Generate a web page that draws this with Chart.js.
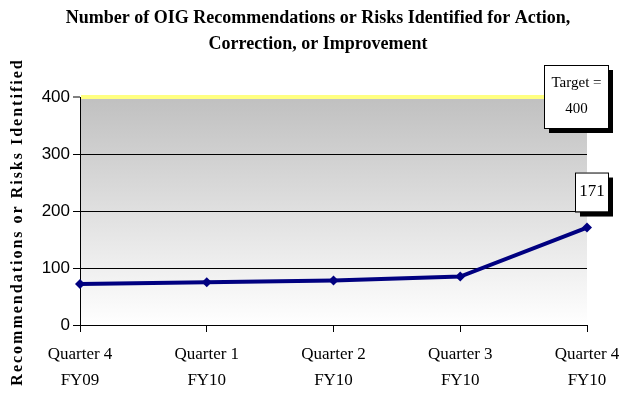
<!DOCTYPE html>
<html>
<head>
<meta charset="utf-8">
<script src="https://cdn.jsdelivr.net/npm/chart.js@4/dist/chart.umd.min.js"></script>
<style>
  html, body { margin: 0; padding: 0; background: #fff; }
  #wrap { width: 621px; height: 395px; }
</style>
</head>
<body>
<div id="wrap"><canvas id="oigChart" width="621" height="395"></canvas></div>
<script>
// quarters and counts
const quarters = [["Quarter 4", "FY09"], ["Quarter 1", "FY10"], ["Quarter 2", "FY10"], ["Quarter 3", "FY10"], ["Quarter 4", "FY10"]];
const recommendations = [72, 75, 78, 85, 171];
const target = 400;
const yTicks = [0, 100, 200, 300, 400];

const SERIF = "'Liberation Serif', 'Times New Roman', serif";
const SANS = "'Liberation Sans', Arial, sans-serif";

// grey-to-white fill behind the plot
const plotBackground = {
    id: "plotBackground",
    beforeDraw(chart) {
        const { ctx, chartArea: a } = chart;
        const g = ctx.createLinearGradient(0, a.top, 0, a.bottom);
        g.addColorStop(0, "#c0c0c0");
        g.addColorStop(1, "#ffffff");
        ctx.save();
        ctx.fillStyle = g;
        ctx.fillRect(a.left, a.top, a.right - a.left, a.bottom - a.top);
        ctx.restore();
    }
};

// boxed label with a drop shadow
function shadowBox(ctx, x, y, w, h, lines, size, lineGap) {
    ctx.fillStyle = "#000";
    ctx.fillRect(x + 5, y + 5, w, h);
    ctx.fillStyle = "#fff";
    ctx.fillRect(x, y, w, h);
    ctx.strokeStyle = "#000";
    ctx.lineWidth = 1;
    ctx.strokeRect(x + 0.5, y + 0.5, w, h);
    ctx.fillStyle = "#000";
    ctx.font = size + "px " + SERIF;
    ctx.textAlign = "center";
    ctx.textBaseline = "middle";
    const start = y + h / 2 - (lines.length - 1) * lineGap / 2;
    lines.forEach((t, i) => ctx.fillText(t, x + w / 2 + 0.5, start + i * lineGap));
}

const annotations = {
    id: "annotations",
    afterDraw(chart) {
        const { ctx, chartArea: a, scales } = chart;
        ctx.save();

        // y axis title, spaced out
        ctx.translate(18, 222);
        ctx.rotate(-Math.PI / 2);
        ctx.font = "bold 16px " + SERIF;
        ctx.letterSpacing = "2px";
        ctx.fillStyle = "#000";
        ctx.textAlign = "center";
        ctx.textBaseline = "middle";
        ctx.fillText("Recommendations or Risks Identified", 0, 0);
        ctx.setTransform(1, 0, 0, 1, 0, 0);
        ctx.letterSpacing = "0px";

        // value label on the last point
        const meta = chart.getDatasetMeta(0);
        const last = meta.data[meta.data.length - 1];
        const v = recommendations[recommendations.length - 1];
        shadowBox(ctx, last.x - 12, last.y - 55, 33, 39, [String(v)], 17, 0);

        // target box
        const ty = scales.y.getPixelForValue(target);
        shadowBox(ctx, a.right - 43, ty - 32, 64, 63, ["Target =", String(target)], 15, 26);
        ctx.restore();
    }
};

new Chart(document.getElementById("oigChart"), {
    type: "line",
    data: {
        labels: quarters,
        datasets: [{
            data: recommendations,
            borderColor: "#000080",
            backgroundColor: "#000080",
            borderWidth: 4,
            tension: 0,
            pointStyle: "rectRot",
            pointRadius: 5,
            pointBorderWidth: 0
        }]
    },
    options: {
        responsive: false,
        animation: false,
        layout: { padding: { left: 15, right: 0, top: 0, bottom: 0 } },
        plugins: {
            legend: { display: false },
            tooltip: { enabled: false },
            title: {
                display: true,
                text: ["Number of OIG Recommendations or Risks Identified for Action,", "Correction, or Improvement"],
                color: "#000",
                font: { family: SERIF, size: 18, weight: "bold", lineHeight: 26 / 18 },
                padding: { top: 5, bottom: 40 }
            }
        },
        scales: {
            x: {
                offset: false,
                grid: { drawOnChartArea: false, tickLength: 7, tickColor: "#000" },
                border: { color: "#000", width: 1 },
                ticks: {
                    color: "#000",
                    maxRotation: 0,
                    padding: 10,
                    font: { family: SERIF, size: 17, lineHeight: 26 / 17 }
                },
                afterFit(s) {
                    s.height = 70;
                    s.paddingLeft = 0;
                    s.paddingRight = 34;
                }
            },
            y: {
                min: 0,
                max: 400,
                afterBuildTicks(s) { s.ticks = yTicks.map(v => ({ value: v })); },
                grid: {
                    color: ctx => ctx.tick && ctx.tick.value === target ? "#ffff80" : "#000",
                    lineWidth: ctx => ctx.tick && ctx.tick.value === target ? 4 : 1,
                    tickLength: 7,
                    tickColor: "#000",
                    tickWidth: 1
                },
                border: { color: "#000", width: 1 },
                ticks: {
                    color: "#000",
                    padding: 3,
                    font: { family: SANS, size: 17 }
                },
                afterFit(s) { s.width = 65; }
            }
        }
    },
    plugins: [plotBackground, annotations]
});
</script>
</body>
</html>
